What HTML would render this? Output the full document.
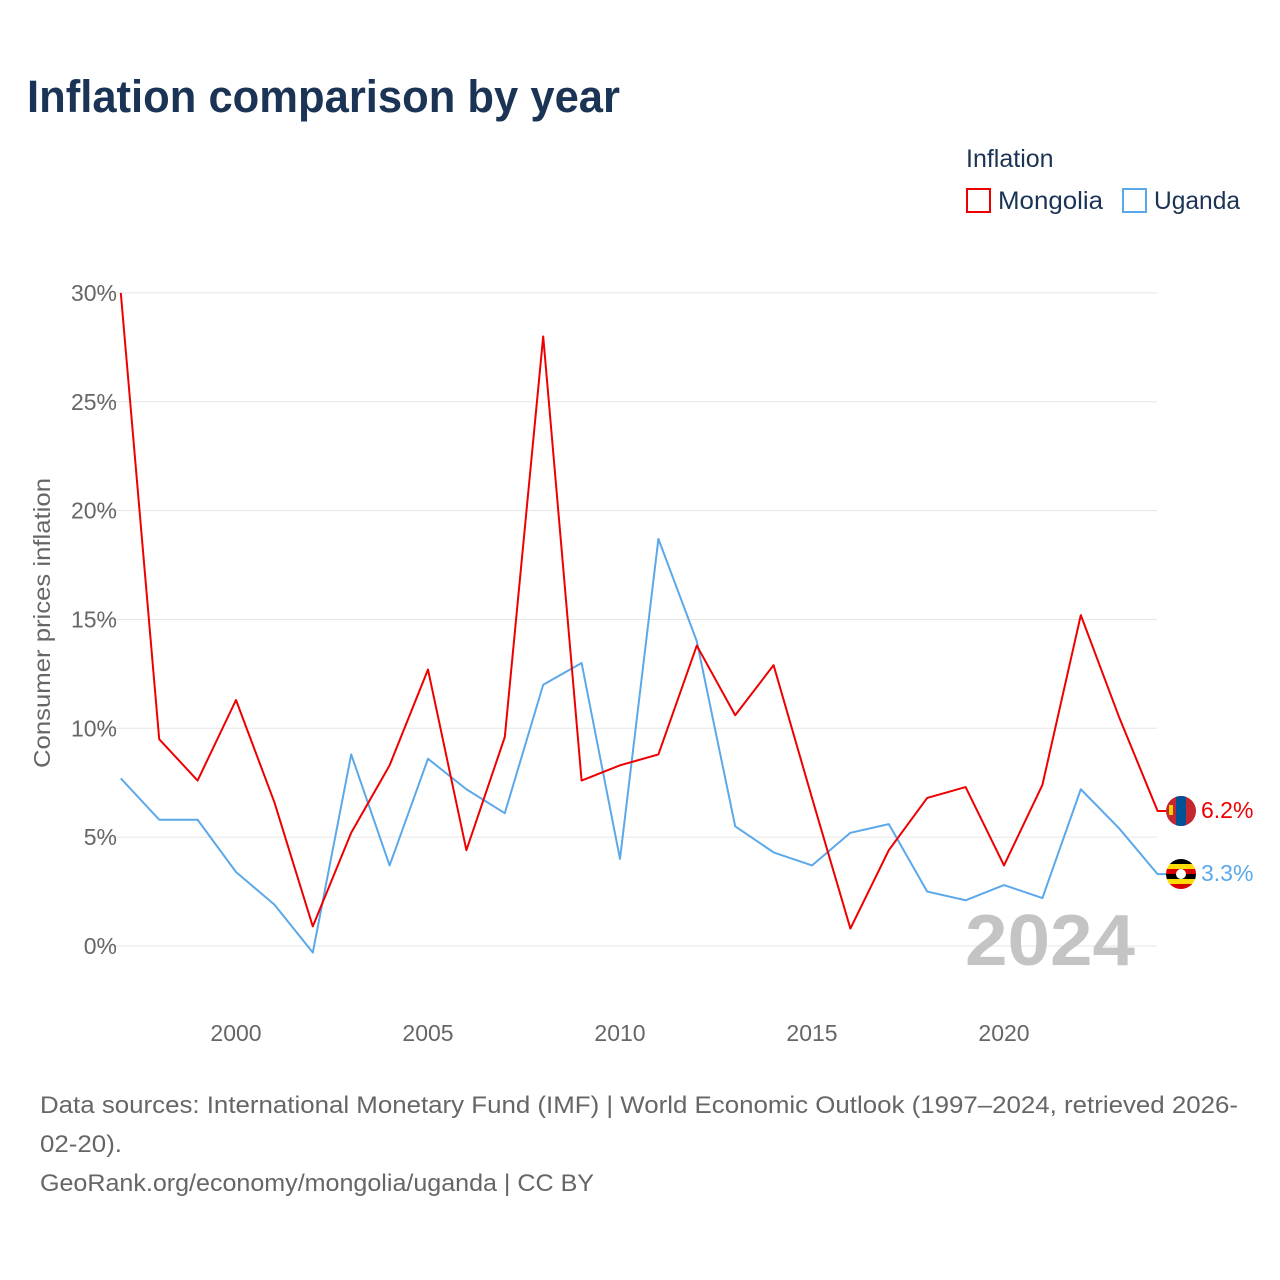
<!DOCTYPE html>
<html><head><meta charset="utf-8"><style>
body{margin:0;background:#fff;font-family:"Liberation Sans",sans-serif;}
#wrap{position:relative;width:1280px;height:1280px;overflow:hidden;}
</style></head><body><div id="wrap">
<svg id="chart" width="1280" height="1280" xmlns="http://www.w3.org/2000/svg">
<text x="27" y="112" font-size="45" font-weight="bold" fill="#1b3455" textLength="593" lengthAdjust="spacingAndGlyphs">Inflation comparison by year</text>
<text x="966" y="167" font-size="25" fill="#1b3455">Inflation</text>
<g><rect x="967" y="189" width="23" height="23" fill="none" stroke="#ee0000" stroke-width="2"/><text x="998" y="209" font-size="25" fill="#1b3455" textLength="105" lengthAdjust="spacingAndGlyphs">Mongolia</text></g>
<g><rect x="1123" y="189" width="23" height="23" fill="none" stroke="#5ba8ea" stroke-width="2"/><text x="1154" y="209" font-size="25" fill="#1b3455" textLength="86" lengthAdjust="spacingAndGlyphs">Uganda</text></g>
<g id="grid"></g><g id="xt"></g><g id="lines"></g>
<text x="0" y="0" transform="translate(50,623) rotate(-90)" text-anchor="middle" font-size="23" fill="#666" textLength="290" lengthAdjust="spacingAndGlyphs">Consumer prices inflation</text>
<text x="965" y="965" font-size="72" font-weight="bold" fill="#c4c4c4" textLength="170" lengthAdjust="spacingAndGlyphs">2024</text>
<g><clipPath id="c1"><circle cx="1181" cy="811" r="15"/></clipPath><g clip-path="url(#c1)"><rect x="1166" y="796" width="30" height="30" fill="#c4272f"/><rect x="1176" y="796" width="10" height="30" fill="#015197"/><rect x="1169" y="805" width="4" height="10" fill="#f9cf02"/></g></g>
<g><clipPath id="c2"><circle cx="1181" cy="874" r="15"/></clipPath><g clip-path="url(#c2)"><rect x="1166" y="859" width="30" height="5" fill="#000"/><rect x="1166" y="864" width="30" height="5" fill="#fcdc04"/><rect x="1166" y="869" width="30" height="5" fill="#d90000"/><rect x="1166" y="874" width="30" height="5" fill="#000"/><rect x="1166" y="879" width="30" height="5" fill="#fcdc04"/><rect x="1166" y="884" width="30" height="6" fill="#d90000"/><circle cx="1181" cy="874" r="5" fill="#fff"/></g></g>
<text x="1201" y="818" font-size="23" fill="#ee0000">6.2%</text>
<text x="1201" y="881" font-size="23" fill="#5ba8ea">3.3%</text>
<text x="40" y="1113" font-size="24" fill="#666" textLength="1198" lengthAdjust="spacingAndGlyphs">Data sources: International Monetary Fund (IMF) | World Economic Outlook (1997–2024, retrieved 2026-</text>
<text x="40" y="1152" font-size="24" fill="#666" textLength="82" lengthAdjust="spacingAndGlyphs">02-20).</text>
<text x="40" y="1191" font-size="24" fill="#666" textLength="554" lengthAdjust="spacingAndGlyphs">GeoRank.org/economy/mongolia/uganda | CC BY</text>
</svg></div>
<script>
const years=[1997,1998,1999,2000,2001,2002,2003,2004,2005,2006,2007,2008,2009,2010,2011,2012,2013,2014,2015,2016,2017,2018,2019,2020,2021,2022,2023,2024];
const mongolia=[30.0,9.5,7.6,11.3,6.6,0.9,5.2,8.3,12.7,4.4,9.6,28.0,7.6,8.3,8.8,13.8,10.6,12.9,6.8,0.8,4.4,6.8,7.3,3.7,7.4,15.2,10.5,6.2];
const uganda=[7.7,5.8,5.8,3.4,1.9,-0.3,8.8,3.7,8.6,7.2,6.1,12.0,13.0,4.0,18.7,14.0,5.5,4.3,3.7,5.2,5.6,2.5,2.1,2.8,2.2,7.2,5.4,3.3];
const yTicks=[0,5,10,15,20,25,30];
const xTicks=[2000,2005,2010,2015,2020];
const X=y=>236+(y-2000)*38.4, Y=v=>946-v*21.77;
const NS='http://www.w3.org/2000/svg';
function mk(t,a,p){const e=document.createElementNS(NS,t);for(const k in a)e.setAttribute(k,a[k]);document.getElementById(p).appendChild(e);return e;}
yTicks.forEach(v=>{
 const l=mk('line',{x1:95,x2:1157,y1:Y(v),y2:Y(v),stroke:'#e6e6e6','stroke-width':1},'grid');
 
 
 const t=mk('text',{x:117,y:Y(v)+8,'text-anchor':'end','font-size':23,fill:'#666'},'grid');t.textContent=v+'%';
 
 
});
xTicks.forEach(v=>{
 const t=mk('text',{x:X(v),y:1041,'text-anchor':'middle','font-size':23,fill:'#666'},'xt');t.textContent=v;
 
 
});
function line(d,c,n){
 let p=years.map((y,i)=>(i?'L':'M')+X(y)+','+Y(d[i])).join('');
 p+='L'+(X(years[years.length-1])+10)+','+Y(d[d.length-1]);
 const e=mk('path',{d:p,fill:'none',stroke:c,'stroke-width':2,'stroke-linejoin':'round'},'lines');
 
 
}
line(uganda,'#5ba8ea','uganda-line');
line(mongolia,'#ee0000','mongolia-line');
</script></body></html>
